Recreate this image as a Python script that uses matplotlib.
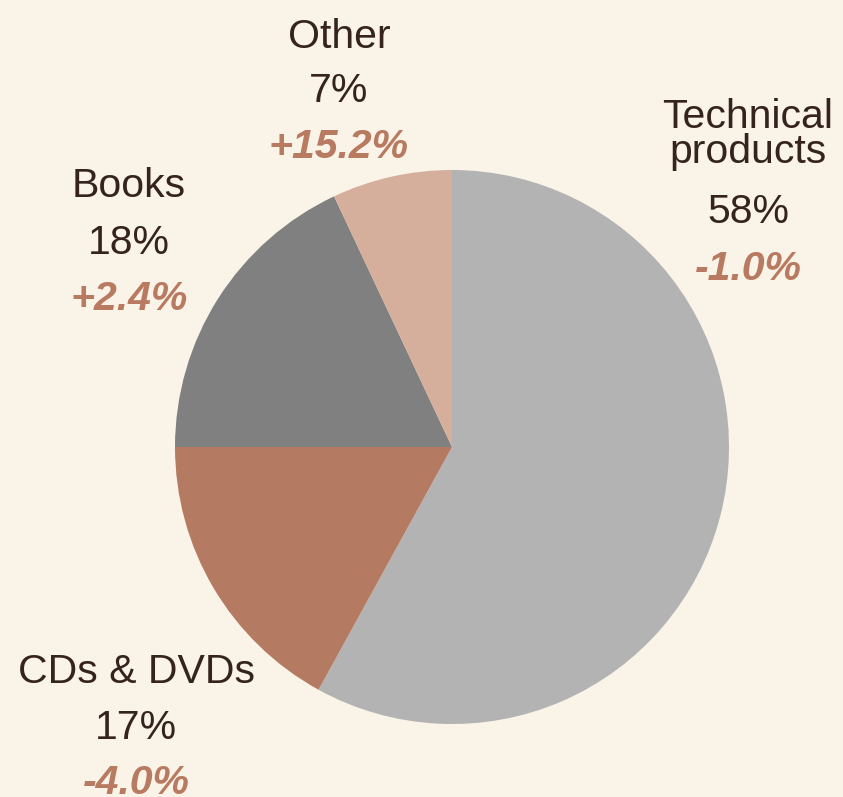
import matplotlib
matplotlib.use("Agg")
import matplotlib.pyplot as plt

categories = ["Technical\nproducts", "CDs & DVDs", "Books", "Other"]
shares = [58, 17, 18, 7]
changes = ["-1.0%", "-4.0%", "+2.4%", "+15.2%"]
colors = ["#b3b3b3", "#b57a62", "#808080", "#d5af9b"]

BG = "#faf3e8"
TXT = "#35231e"
CHG = "#b87a60"

W, H = 843, 797
fig = plt.figure(figsize=(W / 100, H / 100), dpi=100, facecolor=BG)
ax = fig.add_axes([0, 0, 1, 1])
ax.set_facecolor(BG)
ax.set_xlim(0, W)
ax.set_ylim(0, H)
ax.axis("off")

ax.pie(shares, colors=colors, startangle=90, counterclock=False,
       center=(452, H - 447), radius=277, wedgeprops=dict(linewidth=0))
ax.set_xlim(0, W)
ax.set_ylim(0, H)
ax.set_aspect("auto")

# label positions (pixel coords from top-left): x center, baselines for name lines, pct, change
layout = {
    "Technical\nproducts": (748, [128, 163], 223, 280),
    "CDs & DVDs": (136, [683], 739, 794),
    "Books": (129, [197], 254, 310),
    "Other": (339, [48], 102, 158),
}

fam = ["Liberation Sans", "DejaVu Sans"]
fs = 29.5
for cat, sh, ch in zip(categories, shares, changes):
    x, name_bases, pb, cb = layout[cat]
    for line, b in zip(cat.split("\n"), name_bases):
        ax.text(x, H - b, line, ha="center", va="baseline", fontsize=fs,
                color=TXT, family=fam)
    ax.text(x, H - pb, f"{sh}%", ha="center", va="baseline", fontsize=fs,
            color=TXT, family=fam)
    ax.text(x, H - cb, ch, ha="center", va="baseline", fontsize=fs,
            color=CHG, family=fam, fontweight="bold", fontstyle="italic")

fig.savefig("out.png", dpi=100, facecolor=BG)
